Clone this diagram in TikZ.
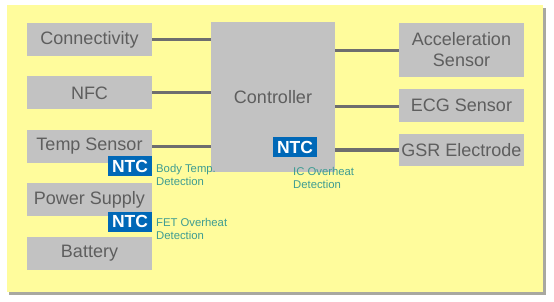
\documentclass[tikz,border=0pt]{standalone}
\usepackage{fontspec}
\setmainfont{Liberation Sans}
\usepackage{xcolor}
\usepackage{tikz}
\usetikzlibrary{calc}
\definecolor{paneyellow}{HTML}{FFFC9C}
\definecolor{shadegray}{HTML}{A8A8A0}
\definecolor{boxgray}{HTML}{C2C2C2}
\definecolor{textgray}{HTML}{5E5E5E}
\definecolor{linkgray}{HTML}{6E6E6E}
\definecolor{ntcblue}{HTML}{0068B7}
\definecolor{noteteal}{HTML}{3E9C92}
\tikzset{every node/.append style={font=\rmfamily},
  block/.style={fill=boxgray,text=textgray,font=\fontsize{18}{20}\selectfont,
    minimum width=125pt,minimum height=33pt,inner sep=0pt,align=center},
  ntcbox/.style={fill=ntcblue,text=white,font=\fontsize{17.5}{18}\selectfont\bfseries,
    minimum width=44pt,minimum height=20pt,inner sep=0pt},
  note/.style={text=noteteal,font=\fontsize{11.3}{13}\selectfont,align=left,
    anchor=north west,inner sep=0pt},
  link/.style={linkgray,line width=3pt}}

\begin{document}
\begin{tikzpicture}[x=1pt,y=-1pt]
  \useasboundingbox (0,0) rectangle (554,302);
  \fill[shadegray] (9,8) rectangle (546,295);
  \fill[paneyellow] (7,5) rectangle (543,292);
  % left column
  \node[block] (conn) at (89.5,39.5) {Connectivity};
  \node[block] (nfc) at (89.5,93) {NFC};
  \node[block] (temp) at (89.5,146.5) {Temp Sensor};
  \node[block] (power) at (89.5,199.5) {Power Supply};
  \node[block] (batt) at (89.5,253) {Battery};
  % controller
  \node[block,minimum width=124pt,minimum height=150pt] (ctrl) at (273,97) {Controller};
  % right column
  \node[block,minimum height=54pt,font=\fontsize{18}{21}\selectfont] (acc) at (461.5,50) {Acceleration\\Sensor};
  \node[block] (ecg) at (461.5,105.5) {ECG Sensor};
  \node[block,minimum height=32pt] (gsr) at (461.5,150) {GSR Electrode};
  % links
  \draw[link] (conn.east) -- (conn.east -| ctrl.west);
  \draw[link] (nfc.east) -- (nfc.east -| ctrl.west);
  \draw[link] (temp.east) -- (temp.east -| ctrl.west);
  \draw[link] ($(acc.west -| ctrl.east)+(0,1)$) -- ($(acc.west)+(0,1)$);
  \draw[link] ($(ecg.west -| ctrl.east)+(0,1.5)$) -- ($(ecg.west)+(0,1.5)$);
  \draw[link] (gsr.west -| ctrl.east) -- (gsr.west);
  % thermistors
  \node[ntcbox] (ntctemp) at (130,166) {NTC};
  \node[ntcbox] (ntcpower) at (130,221.5) {NTC};
  \node[ntcbox] (ntcctrl) at (295,147) {NTC};
  \node[note] (bodynote) at (156,164.5) {Body Temp.\\Detection};
  \node[note] (fetnote) at (156,218.5) {FET Overheat\\Detection};
  \node[note] (icnote) at (293,167.5) {IC Overheat\\Detection};
\end{tikzpicture}
\end{document}
